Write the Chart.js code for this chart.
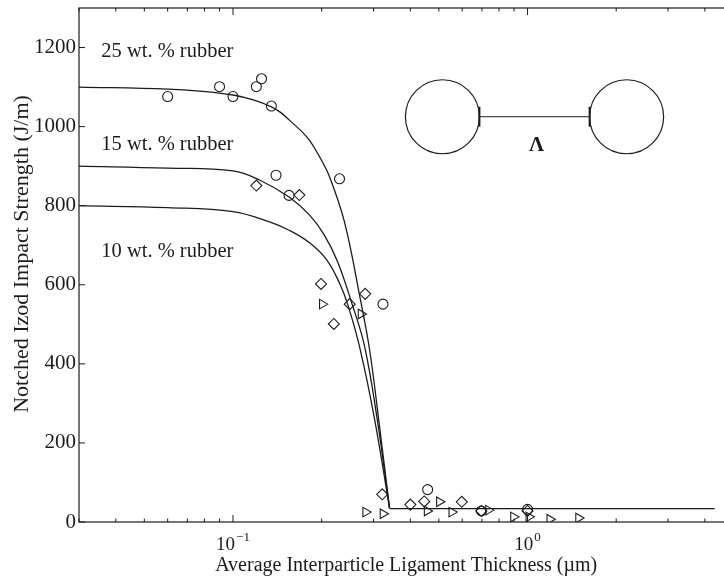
<!DOCTYPE html>
<html><head><meta charset="utf-8">
<script src="https://cdn.jsdelivr.net/npm/chart.js@4/dist/chart.umd.min.js"></script>
<style>
html,body{margin:0;padding:0;background:#fff;overflow:hidden;width:724px;height:581px}
#wrap{position:absolute;left:0;top:0;width:740px;height:581px}
</style>
</head><body><div id="wrap"><canvas id="c" width="740" height="581"></canvas></div>
<script>
// ---- data ----
const rubber25X = [0.060, 0.090, 0.100, 0.120, 0.125, 0.135, 0.140, 0.155, 0.230, 0.323, 0.458, 0.697, 1.00];
const rubber25Y = [1076, 1101, 1076, 1101, 1121, 1052, 877, 826, 868, 551, 82, 28, 32];

const rubber15X = [0.120, 0.168, 0.199, 0.220, 0.249, 0.281, 0.321, 0.400, 0.446, 0.598, 0.697, 1.00];
const rubber15Y = [851, 827, 602, 501, 551, 577, 70, 44, 52, 51, 28, 28];

const rubber10X = [0.201, 0.272, 0.282, 0.323, 0.456, 0.502, 0.553, 0.737, 0.896, 1.01, 1.19, 1.49];
const rubber10Y = [551, 526, 25, 21, 28, 51, 25, 30, 13, 13, 7, 10];

const fit25X = [0.030, 0.060, 0.077, 0.100, 0.118, 0.135, 0.145, 0.155, 0.178, 0.197, 0.213, 0.239, 0.271, 0.291, 0.314, 0.340];
const fit25Y = [1100, 1095, 1090, 1080, 1067, 1050, 1036, 1017, 974, 923, 872, 759, 561, 435, 245, 35];

const fit15X = [0.030, 0.060, 0.100, 0.123, 0.155, 0.182, 0.204, 0.226, 0.254, 0.280, 0.309, 0.340];
const fit15Y = [900, 895, 888, 865, 822, 776, 726, 660, 550, 443, 258, 35];

const fit10X = [0.030, 0.060, 0.100, 0.133, 0.155, 0.182, 0.208, 0.230, 0.245, 0.269, 0.302, 0.340];
const fit10Y = [800, 795, 785, 759, 738, 706, 663, 604, 551, 443, 263, 35];

const floorX = [0.340, 4.32];
const floorY = [34, 34];

const yTickValues = [0, 200, 400, 600, 800, 1000, 1200];
const xTickValues = [0.03,0.04,0.05,0.06,0.07,0.08,0.09,0.1,0.2,0.3,0.4,0.5,0.6,0.7,0.8,0.9,1,2,3,4,5];
const xMajorValues = [0.1, 1];
const xMajorExponents = ['\u22121', '0'];

const seriesLabels = ['25 wt. % rubber', '15 wt. % rubber', '10 wt. % rubber'];
const seriesLabelAnchorX = [0.0357, 0.0357, 0.0357];
const seriesLabelAnchorY = [1176, 940, 670];

const xTitle = 'Average Interparticle Ligament Thickness (\u00b5m)';
const yTitle = '    Notched Izod Impact Strength (J/m)';

// ---- chart ----
const SERIF = '"Liberation Serif", "Times New Roman", serif';
const INK = '#1b1b1b';
const pts = (xs, ys) => xs.map((x, i) => ({x, y: ys[i]}));

function markerSet(xs, ys, style, rot) {
  return {type: 'scatter', data: pts(xs, ys), pointStyle: style, rotation: rot || 0,
    pointRadius: style === 'circle' ? 5 : 5.5, pointBorderWidth: 1.1,
    pointBorderColor: INK, pointBackgroundColor: 'rgba(0,0,0,0)', showLine: false, order: 1};
}
function curveSet(xs, ys, tension) {
  return {type: 'line', data: pts(xs, ys), borderColor: INK, borderWidth: 1.3,
    pointRadius: 0, fill: false, cubicInterpolationMode: 'default', tension: tension, order: 2};
}

const framePlugin = {
  id: 'frame',
  afterDraw(chart) {
    const {ctx, chartArea: a, scales: {x, y}} = chart;
    ctx.save();
    ctx.strokeStyle = INK; ctx.fillStyle = INK; ctx.lineWidth = 1.2;
    ctx.strokeRect(a.left, a.top, a.right - a.left, a.bottom - a.top);
    const seg = (x1, y1, x2, y2) => { ctx.beginPath(); ctx.moveTo(x1, y1); ctx.lineTo(x2, y2); ctx.stroke(); };
    ctx.lineWidth = 1;
    x.ticks.forEach(t => {
      const px = x.getPixelForValue(t.value);
      const len = xMajorValues.includes(t.value) ? 7 : 3.5;
      seg(px, a.bottom, px, a.bottom - len);
      seg(px, a.top, px, a.top + len);
    });
    y.ticks.forEach(t => {
      const py = y.getPixelForValue(t.value);
      seg(a.left, py, a.left + 6, py);
      seg(a.right, py, a.right - 6, py);
    });
    // x tick labels with superscript exponents
    xMajorValues.forEach((v, i) => {
      const px = x.getPixelForValue(v);
      ctx.font = '19px ' + SERIF;
      const wb = ctx.measureText('10').width;
      ctx.font = '13px ' + SERIF;
      const we = ctx.measureText(xMajorExponents[i]).width;
      const x0 = px - (wb + we + 1) / 2;
      ctx.textAlign = 'left'; ctx.textBaseline = 'alphabetic';
      ctx.font = '19px ' + SERIF;
      ctx.fillText('10', x0, a.bottom + 28);
      ctx.font = '13px ' + SERIF;
      ctx.fillText(xMajorExponents[i], x0 + wb + 1, a.bottom + 19);
    });
    // series annotations
    ctx.font = '20.5px ' + SERIF;
    ctx.textAlign = 'left'; ctx.textBaseline = 'alphabetic';
    seriesLabels.forEach((s, i) => {
      ctx.fillText(s, x.getPixelForValue(seriesLabelAnchorX[i]), y.getPixelForValue(seriesLabelAnchorY[i]));
    });
    // inset diagram: two particles separated by ligament Lambda
    const cy = y.getPixelForValue(1025);
    const c1 = x.getPixelForValue(0.514), c2 = x.getPixelForValue(2.17);
    const r = 37;
    ctx.lineWidth = 1.2;
    ctx.beginPath(); ctx.arc(c1, cy, r, 0, Math.PI * 2); ctx.stroke();
    ctx.beginPath(); ctx.arc(c2, cy, r, 0, Math.PI * 2); ctx.stroke();
    ctx.lineWidth = 1;
    seg(c1 + r, cy, c2 - r, cy);
    ctx.lineWidth = 2;
    seg(c1 + r, cy - 10, c1 + r, cy + 10);
    seg(c2 - r, cy - 10, c2 - r, cy + 10);
    ctx.font = 'bold 21px ' + SERIF;
    ctx.textAlign = 'center';
    ctx.fillText('\u039b', (c1 + c2) / 2 + 2, cy + 34);
    ctx.restore();
  }
};

new Chart(document.getElementById('c'), {
  type: 'scatter',
  data: {datasets: [
    markerSet(rubber25X, rubber25Y, 'circle'),
    markerSet(rubber15X, rubber15Y, 'rectRot'),
    markerSet(rubber10X, rubber10Y, 'triangle', 90),
    curveSet(fit25X, fit25Y, 0.4),
    curveSet(fit15X, fit15Y, 0.4),
    curveSet(fit10X, fit10Y, 0.4),
    curveSet(floorX, floorY, 0)
  ]},
  options: {
    responsive: false, devicePixelRatio: 1, animation: false,
    layout: {padding: {top: 8, right: 6, left: 0, bottom: 0}},
    plugins: {legend: {display: false}, tooltip: {enabled: false}},
    scales: {
      x: {type: 'logarithmic', min: 0.03, max: 5, position: 'bottom',
        afterBuildTicks: s => { s.ticks = xTickValues.map(v => ({value: v})); },
        afterFit: s => { s.height = 59; s.paddingLeft = 0; s.paddingRight = 0; },
        ticks: {display: false},
        grid: {display: false, drawTicks: false}, border: {display: false},
        title: {display: true, text: xTitle, color: INK, font: {family: SERIF, size: 20}, padding: {top: 0, bottom: 3}}
      },
      y: {type: 'linear', min: 0, max: 1300, position: 'left',
        afterBuildTicks: s => { s.ticks = yTickValues.map(v => ({value: v})); },
        afterFit: s => { s.width = 79; s.paddingTop = 0; s.paddingBottom = 0; },
        ticks: {color: INK, font: {family: SERIF, size: 21}, padding: 3, callback: v => String(v)},
        grid: {display: false, drawTicks: false}, border: {display: false},
        title: {display: true, text: yTitle, color: INK, font: {family: SERIF, size: 22}, padding: {top: 9, bottom: 0}}
      }
    }
  },
  plugins: [framePlugin]
});
</script>
</body></html>
